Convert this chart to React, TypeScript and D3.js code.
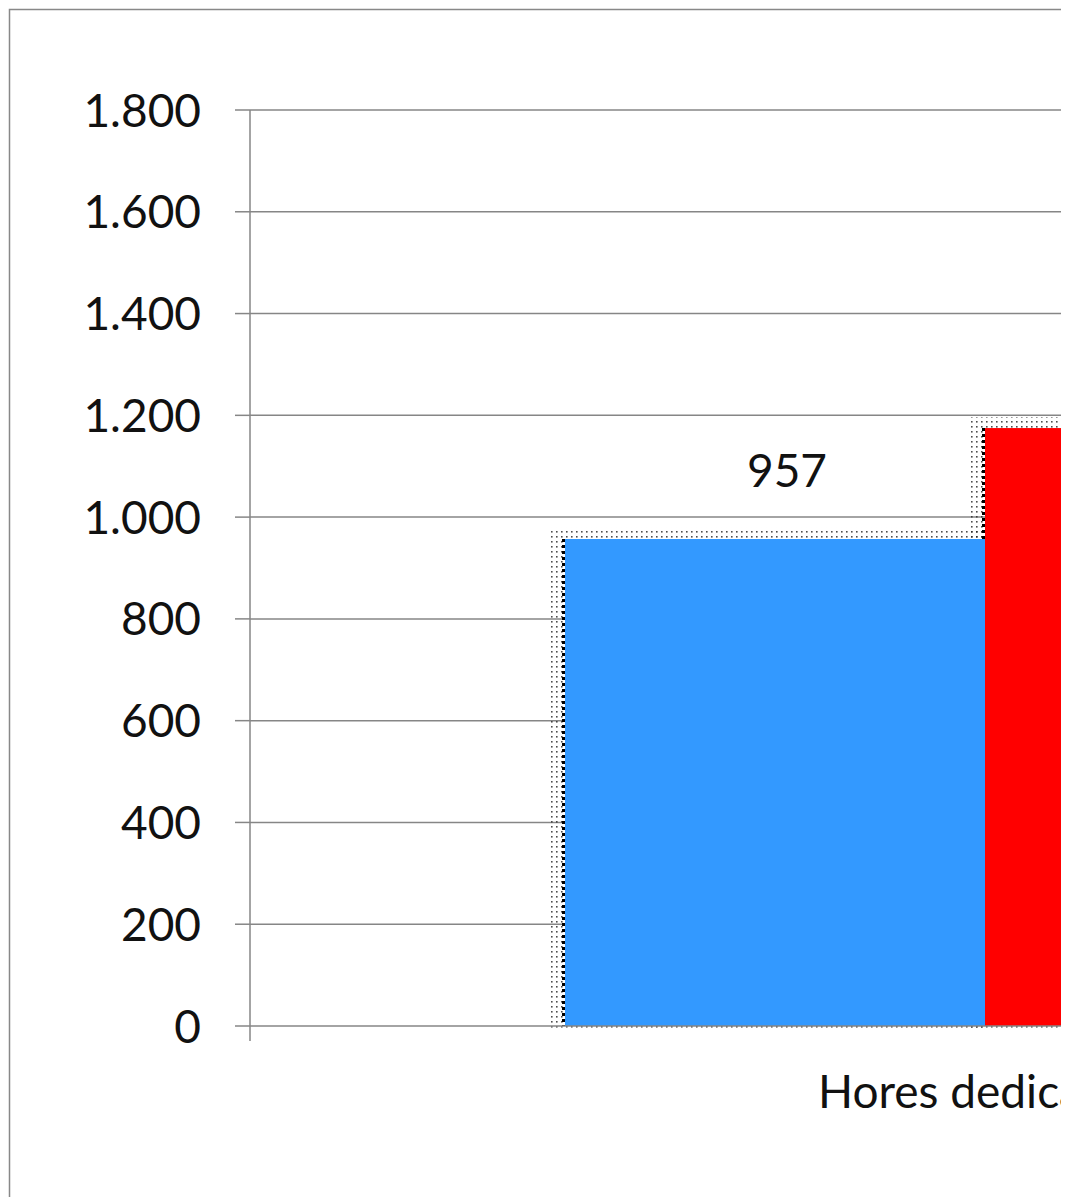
import React, { useEffect, useRef } from "react";
import * as d3 from "d3";

const categories = ["Hores dedicades"];
const seriesNames = ["Sèrie 1", "Sèrie 2"];
const seriesValues = [957, 1175];
const seriesColors = ["#3399ff", "#ff0000"];
const yTicks = [0, 200, 400, 600, 800, 1000, 1200, 1400, 1600, 1800];

const W = 1068;
const H = 1197;

const App = () => {
  const ref = useRef<SVGGElement | null>(null);

  useEffect(() => {
    if (!ref.current) return;
    ref.current.innerHTML = "";
    const g = d3.select(ref.current);
    const font = "Lato, 'Open Sans', sans-serif";
    const fs = 46;

    // plot area, the right part falls outside the picture
    const left = 250, top = 110, bottom = 1026, right = 1720;

    const y = d3.scaleLinear().domain([0, 1800]).range([bottom, top]);
    const x0 = d3.scaleBand().domain(categories).range([left, right]).paddingInner(0).paddingOuter(0);
    // gap width 150% -> bars take 2/(2+1.5) of band
    const groupW = x0.bandwidth() * (2 / 3.5);
    const x1 = d3.scaleBand().domain(seriesNames).range([0, groupW]);

    // frame
    g.append("rect").attr("x", 9.5).attr("y", 9.5).attr("width", 2000).attr("height", 2000)
      .attr("fill", "#fff").attr("stroke", "#888").attr("stroke-width", 1.5);

    const defs = g.append("defs");
    const pat = defs.append("pattern").attr("id", "dots").attr("patternUnits", "userSpaceOnUse")
      .attr("width", 5).attr("height", 5);
    pat.append("rect").attr("x", 1).attr("y", 1).attr("width", 1.6).attr("height", 1.6).attr("fill", "#222");

    // gridlines
    g.selectAll(".grid").data(yTicks.filter(d => d > 0)).enter().append("line")
      .attr("x1", left).attr("x2", W + 10)
      .attr("y1", d => y(d)).attr("y2", d => y(d))
      .attr("stroke", "#868686").attr("stroke-width", 1.5);

    // tick labels
    g.selectAll(".ytl").data(yTicks).enter().append("text")
      .attr("x", 201).attr("y", d => y(d)).attr("dy", "0.36em")
      .attr("text-anchor", "end").attr("font-family", font).attr("font-size", fs)
      .attr("fill", "#111").text(d => d3.format(",")(d).replace(/,/g, "."));

    // bars
    const gx = x0(categories[0])! + (x0.bandwidth() - groupW) / 2;
    seriesValues.forEach((v, i) => {
      const bx = gx + x1(seriesNames[i])!;
      const bw = x1.bandwidth();
      g.append("rect").attr("x", bx - 16).attr("y", y(v) - 11)
        .attr("width", bw + 16).attr("height", bottom - y(v) + 15)
        .attr("fill", "url(#dots)").attr("opacity", 0.8);
      g.append("line").attr("x1", bx - 1.5).attr("x2", bx - 1.5).attr("y1", y(v)).attr("y2", bottom)
        .attr("stroke", "#000").attr("stroke-width", 3).attr("stroke-dasharray", "3,3");
    });
    seriesValues.forEach((v, i) => {
      const bx = gx + x1(seriesNames[i])!;
      g.append("rect").attr("x", bx).attr("y", y(v))
        .attr("width", x1.bandwidth()).attr("height", bottom - y(v))
        .attr("fill", seriesColors[i]);
      g.append("text").attr("x", bx + x1.bandwidth() / 2 + 12).attr("y", y(v) - 52)
        .attr("text-anchor", "middle").attr("font-family", font).attr("font-size", fs)
        .attr("fill", "#111").text(v);
    });

    // axes
    g.append("line").attr("x1", left).attr("x2", W + 10).attr("y1", bottom).attr("y2", bottom)
      .attr("stroke", "#868686").attr("stroke-width", 1.5);
    g.append("line").attr("x1", left).attr("x2", left).attr("y1", top).attr("y2", bottom + 15)
      .attr("stroke", "#868686").attr("stroke-width", 1.5);
    g.selectAll(".tk").data(yTicks).enter().append("line")
      .attr("x1", left - 15).attr("x2", left).attr("y1", d => y(d)).attr("y2", d => y(d))
      .attr("stroke", "#868686").attr("stroke-width", 1.5);

    // category label
    g.append("text").attr("x", x0(categories[0])! + x0.bandwidth() / 2).attr("y", 1108)
      .attr("text-anchor", "middle").attr("font-family", font).attr("font-size", fs)
      .attr("fill", "#111").text(categories[0]);

    // the picture is cut at the right
    g.append("rect").attr("x", 1061).attr("y", 0).attr("width", 20).attr("height", H).attr("fill", "#fff");
  }, []);

  return (
    <svg width={W} height={H} style={{ position: "absolute", left: 0, top: 0, display: "block" }}>
      <g ref={ref} />
    </svg>
  );
};

export default App;
